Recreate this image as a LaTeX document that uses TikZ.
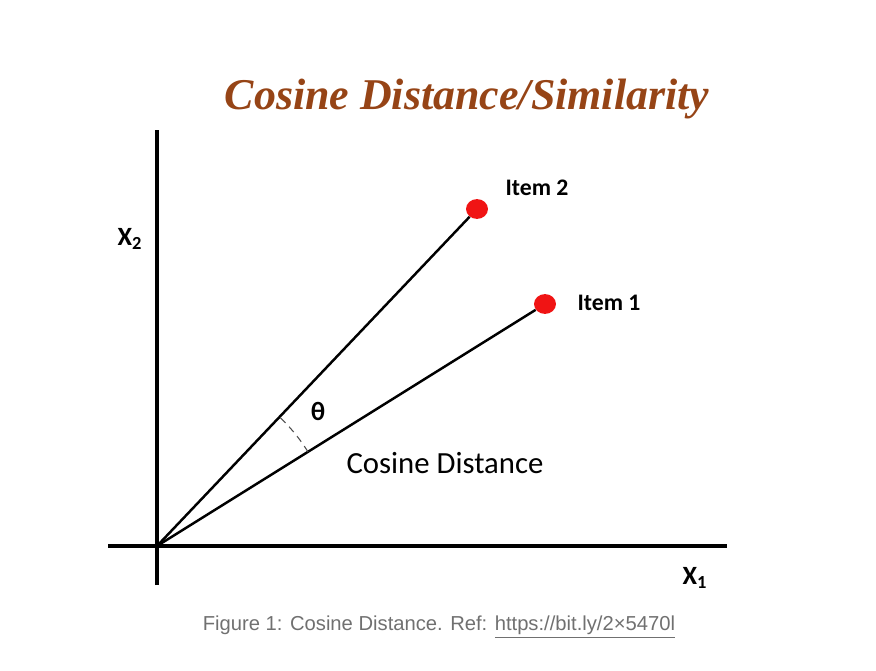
\documentclass[tikz,border=0pt]{standalone}
\usepackage{fontspec}
\setmainfont{Carlito}
\newfontfamily\titlefont{Liberation Serif}
\newfontfamily\capfont{Liberation Sans}
\definecolor{titlebrown}{RGB}{150,68,22}
\definecolor{capgray}{RGB}{112,112,112}
\definecolor{dotred}{RGB}{240,20,20}
\tikzset{
	dot/.style={ellipse,fill=dotred,minimum width=12.5pt,minimum height=11.3pt,inner sep=0pt},
	vec/.style={line width=1.4pt},
	axis/.style={line width=2pt},
	lbl/.style={font=\bfseries\fontsize{13.5}{16}\selectfont},
}
\usetikzlibrary{shapes.geometric}
\begin{document}
\begin{tikzpicture}[x=0.02cm,y=0.02cm]
	\useasboundingbox (0,0) rectangle (876,670);

	%Title
	\node[] at (467,571) (title) {\titlefont\bfseries\itshape\color{titlebrown}\fontsize{25}{29}\selectfont Cosine Distance/Similarity};

	%Axes
	\coordinate (o) at (157,124);
	\draw[axis] (157,85)--(157,540);
	\draw[axis] (108,124)--(727,124);
	\node[] at (130,431) (x2) {\bfseries\fontsize{15}{18}\selectfont X\textsubscript{2}};
	\node[] at (695,92) (x1) {\bfseries\fontsize{15}{18}\selectfont X\textsubscript{1}};

	%Items
	\node[dot] at (477,461) (i2) {};
	\node[dot] at (545,366) (i1) {};
	\draw[vec] (o)--(i2);
	\draw[vec] (o)--(i1);
	\node[lbl] at (537,482) (l2) {Item 2};
	\node[lbl] at (609,367) (l1) {Item 1};

	%Angle
	\draw[line width=0.6pt,dash pattern=on 4pt off 3pt,black!70] (o) ++(31.9:3.56cm) arc (31.9:46.5:3.56cm);
	\node[] at (318,259) (th) {\bfseries\fontsize{15}{18}\selectfont θ};
	\node[] at (445,207) (cd) {\fontsize{17.5}{20}\selectfont Cosine Distance};

	%Caption
	\node[] at (439,43) (cap) {\capfont\color{capgray}\fontsize{11.5}{14}\selectfont Figure 1: Cosine Distance. Ref: \underline{https://bit.ly/2×5470l}};
\end{tikzpicture}
\end{document}
